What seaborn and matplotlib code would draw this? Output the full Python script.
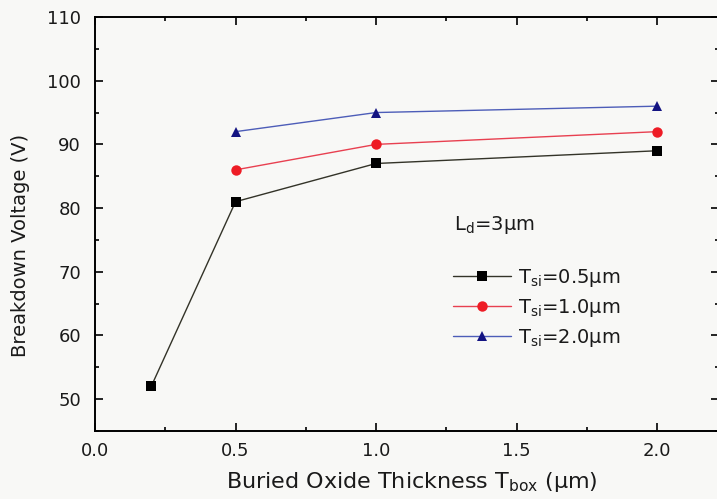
import numpy as np
import pandas as pd
import matplotlib
matplotlib.use("Agg")
import matplotlib.pyplot as plt
import seaborn as sns
from matplotlib.ticker import MultipleLocator

# ---- data ----
x_05 = [0.2, 0.5, 1.0, 2.0]
v_05 = [52, 81, 87, 89]
x_10 = [0.5, 1.0, 2.0]
v_10 = [86, 90, 92]
x_20 = [0.5, 1.0, 2.0]
v_20 = [92, 95, 96]
series_labels = [r"T$_{\rm si}$=0.5$\mu$m", r"T$_{\rm si}$=1.0$\mu$m", r"T$_{\rm si}$=2.0$\mu$m"]
x_ticks = [0.0, 0.5, 1.0, 1.5, 2.0]
y_ticks = [50, 60, 70, 80, 90, 100, 110]

df = pd.concat([
    pd.DataFrame({"x": x_05, "y": v_05, "s": series_labels[0]}),
    pd.DataFrame({"x": x_10, "y": v_10, "s": series_labels[1]}),
    pd.DataFrame({"x": x_20, "y": v_20, "s": series_labels[2]}),
])

sns.set_theme(style="ticks")
plt.rcParams["font.family"] = ["DejaVu Sans"]
plt.rcParams["mathtext.fontset"] = "dejavusans"
plt.rcParams["mathtext.default"] = "rm"

bg = "#f8f8f6"
txt = "#1a1a1a"
fig = plt.figure(figsize=(7.17, 4.99), dpi=100, facecolor=bg)
# axes: left 95px, right ~719px, top 17px, bottom 431px
ax = fig.add_axes([95/717, 1-431/499, (719-95)/717, (431-17)/499], facecolor=bg)

line_colors = {series_labels[0]: "#333328", series_labels[1]: "#e84050", series_labels[2]: "#4d5db8"}
marker_colors = ["#000000", "#ee1c25", "#141482"]
markers = {series_labels[0]: "s", series_labels[1]: "o", series_labels[2]: "^"}

sns.lineplot(data=df, x="x", y="y", hue="s", style="s", palette=line_colors,
             markers=markers, dashes=False, ax=ax, linewidth=1.0, markersize=7.5,
             markeredgewidth=0, legend=False)
for line, mc in zip(ax.lines, marker_colors):
    line.set_markerfacecolor(mc)
    line.set_markeredgecolor(mc)

ax.set_xlim(0, 2.22)
ax.set_ylim(45, 110)
ax.set_xticks(x_ticks)
ax.set_yticks(y_ticks)
ax.xaxis.set_minor_locator(MultipleLocator(0.25))
ax.yaxis.set_minor_locator(MultipleLocator(5))
ax.tick_params(which="both", direction="in", top=True, right=True, color="black", width=1.2)
ax.tick_params(which="major", length=6, labelsize=13, labelcolor=txt)
ax.tick_params(axis="x", which="major", pad=8)
ax.tick_params(axis="y", which="major", pad=10)
ax.tick_params(which="minor", length=3)
for sp in ax.spines.values():
    sp.set_linewidth(1.4)
    sp.set_color("black")

ax.set_xlabel(r"Buried Oxide Thickness T$_{\rm box}$ ($\mu$m)", fontsize=16, color=txt)
ax.set_ylabel("Breakdown Voltage (V)", fontsize=14, color=txt)
ax.yaxis.set_label_coords(-0.104, 0.449)
ax.xaxis.set_label_coords(0.508, -0.093)

ax.text(454/717, 1-225/499, r"L$_{\rm d}$=3$\mu$m", transform=fig.transFigure,
        fontsize=14, va="center", ha="left", color=txt)

handles = ax.lines[:3]
leg = fig.legend(handles, series_labels, loc="upper left", bbox_to_anchor=(453/717, 1-267/499),
                 frameon=False, fontsize=14, numpoints=1, handlelength=3.0, handletextpad=0.35,
                 labelspacing=0.4, borderaxespad=0, borderpad=0)
for t in leg.get_texts():
    t.set_color(txt)

fig.savefig("out.png", dpi=100, facecolor=bg)
